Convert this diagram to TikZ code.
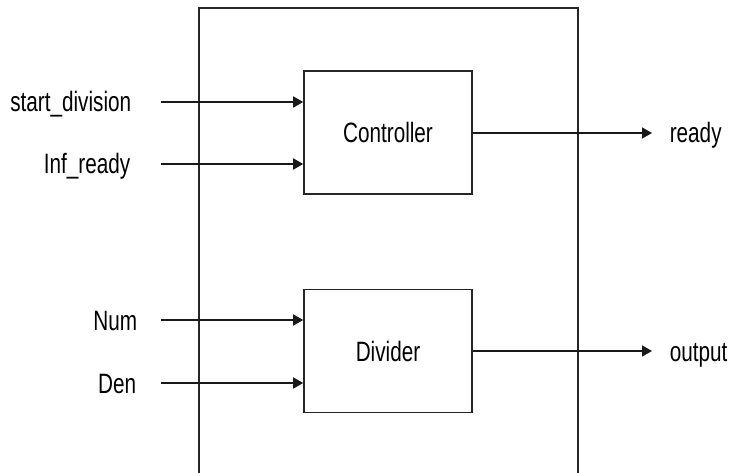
\documentclass[tikz,border=0pt]{standalone}
\usepackage{fontspec}
\setmainfont[FakeStretch=0.74]{Liberation Sans}
\usetikzlibrary{arrows.meta}
\begin{document}
\begin{tikzpicture}[x=1pt,y=-1pt,
  line width=1.6pt, draw=black!85,
  blockbox/.style={draw, minimum width=168pt, minimum height=123pt, inner sep=0pt, font=\fontsize{28}{30}\selectfont},
  lbl/.style={inner sep=0pt, font=\fontsize{28}{30}\selectfont},
  arr/.style={-{Triangle[length=10pt,width=11pt]}, draw=black!90}]
\useasboundingbox (0,0) rectangle (731,473);
% outer box (bottom edge outside the picture)
\draw (199,480) -- (199,8) -- (578,8) -- (578,480);
% blocks
\node[blockbox] (ctrl) at (388,132.5) {Controller};
\node[blockbox] (div) at (388,351) {Divider};
% input labels
\node[lbl, anchor=base east] (ls) at (132,112) {start\_division};
\node[lbl, anchor=base east] (li) at (131,174) {Inf\_ready};
\node[lbl, anchor=base east] (ln) at (138,330) {Num};
\node[lbl, anchor=base east] (ld) at (137,393) {Den};
% output labels
\node[lbl, anchor=base west] (lr) at (669,143) {ready};
\node[lbl, anchor=base west] (lo) at (669,361) {output};
% connector ends
\coordinate (cs) at (161,102);
\coordinate (ci) at (161,164);
\coordinate (cn) at (161,320);
\coordinate (cd) at (161,383);
\coordinate (cr) at (652,133);
\coordinate (co) at (652,351);
% arrows
\draw[arr] (cs) -- (cs -| ctrl.west);
\draw[arr] (ci) -- (ci -| ctrl.west);
\draw[arr] (cn) -- (cn -| div.west);
\draw[arr] (cd) -- (cd -| div.west);
\draw[arr] (ctrl.east |- cr) -- (cr);
\draw[arr] (div.east |- co) -- (co);
\end{tikzpicture}
\end{document}
